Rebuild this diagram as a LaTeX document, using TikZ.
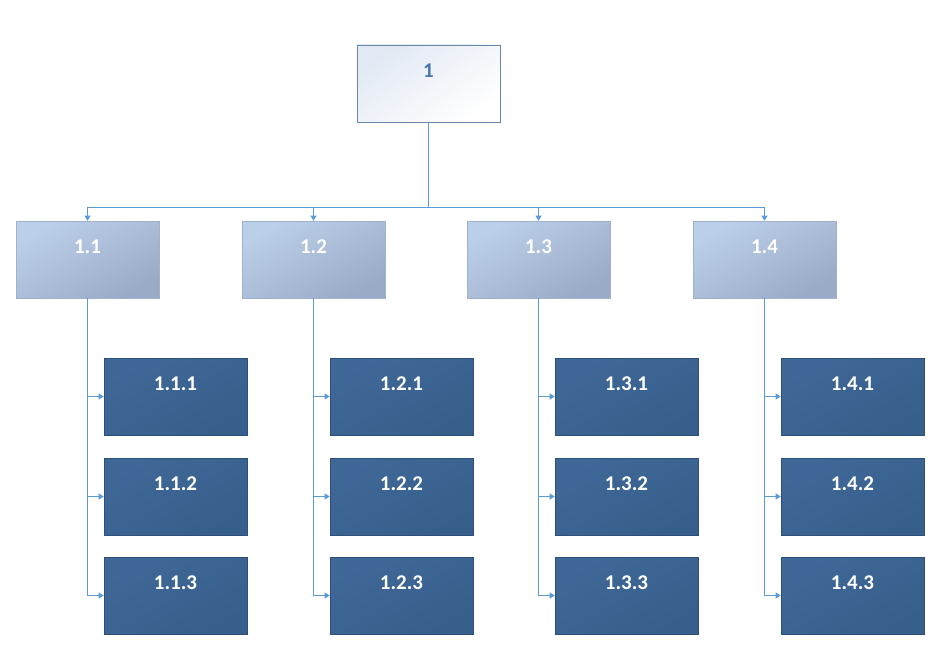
\documentclass[tikz,border=0pt]{standalone}
\usepackage{fontspec}
\setmainfont{Carlito}
\usetikzlibrary{arrows.meta}
\definecolor{linec}{HTML}{5B9BD5}
\definecolor{topborder}{HTML}{6A86A8}
\definecolor{toptext}{HTML}{4A76AC}
\definecolor{topA}{HTML}{E2E9F4}
\definecolor{lvtwoA}{HTML}{BCCFE8}
\definecolor{lvtwoB}{HTML}{9AABC7}
\definecolor{lvtwoborder}{HTML}{9FB2CF}
\definecolor{lvthreeA}{HTML}{3F6898}
\definecolor{lvthreeB}{HTML}{375F8B}
\definecolor{lvthreeborder}{HTML}{2E5078}
\tikzset{
  box/.style={rectangle, minimum width=143pt, minimum height=77pt, inner sep=0pt,
    text height=14pt, text depth=26pt, font=\fontsize{21}{21}\selectfont\bfseries},
  topbox/.style={box, draw=topborder, line width=0.8pt,
    top color=topA, bottom color=white, shading angle=35, text=toptext},
  lvtwo/.style={box, draw=lvtwoborder, line width=0.6pt, top color=lvtwoA, bottom color=lvtwoB,
    shading angle=30, text=white},
  lvthree/.style={box, draw=lvthreeborder, line width=0.6pt, top color=lvthreeA, bottom color=lvthreeB,
    shading angle=30, text=white},
  conn/.style={draw=linec, line width=1pt},
  arr/.style={conn, -{Triangle[length=5pt,width=6pt]}}
}
\begin{document}
\begin{tikzpicture}[x=1pt,y=-1pt]
\useasboundingbox (0,0) rectangle (949,663);
\node[topbox] (n1) at (428.5,83.5) {1};
\foreach \i/\x in {1/87.5,2/313.5,3/538.5,4/764.5}{
  \node[lvtwo] (n1\i) at (\x,259.5) {1.\i};
  \foreach \j/\y in {1/396.5,2/496.5,3/595.5}{
    \node[lvthree] (n1\i\j) at (\x+88,\y) {1.\i.\j};
  }
}
\coordinate (hub) at (428.5,207);
\draw[conn] (n1.south) -- (hub);
\draw[conn] (n11.north |- hub) -- (n14.north |- hub);
\foreach \i in {1,2,3,4}{
  \draw[arr] (n1\i.north |- hub) -- (n1\i.north);
  \draw[conn] (n1\i.south) -- (n1\i.south |- n1\i3.west);
  \foreach \j in {1,2,3}{
    \draw[arr] (n1\i.south |- n1\i\j.west) -- (n1\i\j.west);
  }
}
\end{tikzpicture}
\end{document}
